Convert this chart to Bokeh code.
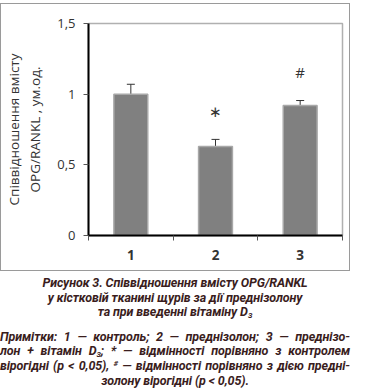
from bokeh.plotting import figure
from bokeh.models import (ColumnDataSource, Range1d, FixedTicker, Whisker, TeeHead, Div)
from bokeh.layouts import column
from bokeh.core.properties import value
from bokeh.embed import file_html
from bokeh.resources import INLINE

# ---- data ----
categories = ["1", "2", "3"]
values = [1.00, 0.63, 0.92]
errors = [0.07, 0.05, 0.035]
sig_labels = ["", "\u2217", "#"]
y_ticks = [0, 0.5, 1, 1.5]
y_tick_labels = ["0", "0,5", "1", "1,5"]
y_label = "Співвідношення вмісту\nOPG/RANKL , ум.од."

xs = list(range(1, len(categories) + 1))
src = ColumnDataSource(dict(
    x=xs, v=values,
    upper=[v + e for v, e in zip(values, errors)],
    lower=[v - e for v, e in zip(values, errors)],
    sig=sig_labels,
    sig_y=[v + e + 0.2 for v, e in zip(values, errors)],
))

p = figure(width=350, height=268, x_range=Range1d(0.5, len(categories) + 0.5),
           y_range=Range1d(0, 1.5), output_backend="svg", toolbar_location=None,
           min_border_left=78, min_border_right=9, min_border_top=19, min_border_bottom=37)
p.styles = {"border": "1px solid #9a9a9a"}
p.border_fill_alpha = 0
p.xgrid.visible = False
p.ygrid.visible = False
p.outline_line_color = "#b0b0b0"
p.outline_line_width = 1.5
p.background_fill_color = "white"

p.vbar(x="x", top="v", width=0.4, fill_color="#808080", line_color="#a8a8a8",
       line_width=1.5, source=src)
p.add_layout(Whisker(source=src, base="x", upper="upper", lower="lower",
                     line_color="#333333", line_width=1,
                     upper_head=TeeHead(size=8, line_color="#333333", line_width=1),
                     lower_head=TeeHead(size=8, line_color="#333333", line_width=1)))
p.text(x="x", y="sig_y", text="sig", source=src, text_align="center",
       text_baseline="middle", text_font_size="15px", text_color="#333333",
       text_font=value("Open Sans"))

# y axis
p.yaxis.ticker = FixedTicker(ticks=y_ticks, minor_ticks=[])
p.yaxis.major_label_overrides = {t: l for t, l in zip(y_ticks, y_tick_labels)}
p.yaxis.axis_line_width = 2
p.yaxis.axis_line_color = "black"
p.yaxis.major_tick_out = 5
p.yaxis.major_tick_in = 0
p.yaxis.major_tick_line_color = "#555555"
p.yaxis.major_label_text_font = "Open Sans"
p.yaxis.major_label_text_font_size = "13px"
p.yaxis.major_label_text_color = "#333333"
p.yaxis.major_label_standoff = 8
p.yaxis.axis_label = y_label
p.yaxis.axis_label_text_font = "Open Sans"
p.yaxis.axis_label_text_font_size = "13.5px"
p.yaxis.axis_label_text_font_style = "normal"
p.yaxis.axis_label_text_color = "#333333"
p.yaxis.axis_label_standoff = 10

# x axis
p.xaxis.ticker = FixedTicker(ticks=xs, minor_ticks=[x - 0.5 for x in xs] + [xs[-1] + 0.5])
p.xaxis.major_label_overrides = {x: c for x, c in zip(xs, categories)}
p.xaxis.axis_line_width = 2
p.xaxis.axis_line_color = "black"
p.xaxis.major_tick_line_color = None
p.xaxis.minor_tick_out = 5
p.xaxis.minor_tick_in = 0
p.xaxis.minor_tick_line_color = "#555555"
p.xaxis.major_label_text_font = "Open Sans"
p.xaxis.major_label_text_font_style = "bold"
p.xaxis.major_label_text_font_size = "13.5px"
p.xaxis.major_label_text_color = "#333333"
p.xaxis.major_label_standoff = 8

cap_color = "#3a1d1d"
base = ("font-family:Roboto,sans-serif;font-weight:bold;font-style:italic;"
        "font-size:12.5px;line-height:14.7px;color:%s;width:350px;letter-spacing:-0.1px"
        % cap_color)
sub = '<span style="font-size:8px;vertical-align:-2px;line-height:0">3</span>'
sup = '<span style="font-size:8px;vertical-align:4px;line-height:0">#</span>'
cap1 = Div(width=350, margin=(5, 0, 0, 0), text=(
    f'<div style="{base};text-align:center">'
    "Рисунок 3. Співвідношення вмісту OPG/RANKL<br>"
    "у кістковій тканині щурів за дії преднізолону<br>"
    f"та при введенні вітаміну D{sub}</div>"))
jl = "text-align:justify;text-align-last:justify;white-space:nowrap"
cap2 = Div(width=350, margin=(8, 0, 0, 0), text=(
    f'<div style="{base}">'
    f'<div style="{jl}">Примітки: 1 — контроль; 2 — преднізолон; 3 — преднізо-</div>'
    f'<div style="{jl}">лон + вітамін D{sub}; * — відмінності порівняно з контролем</div>'
    f'<div style="{jl}">вірогідні (р &lt; 0,05), {sup} — відмінності порівняно з дією предні-</div>'
    '<div style="text-align:center">золону вірогідні (р &lt; 0,05).</div></div>'))

layout = column(p, cap1, cap2, spacing=0, margin=(3, 0, 0, 0))
open("out.html", "w").write(file_html(layout, INLINE))
